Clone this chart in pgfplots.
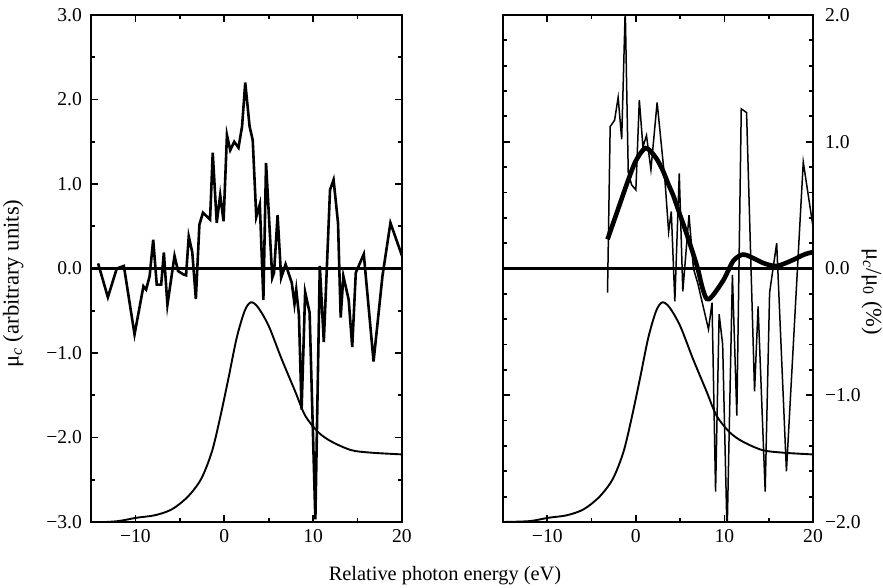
\documentclass[border=0pt]{standalone}
\usepackage{fontspec}
\setmainfont{Liberation Serif}
\usepackage{pgfplots}
\pgfplotsset{compat=1.18}

\begin{document}
\begin{tikzpicture}
\path[use as bounding box] (-45.5pt,-33pt) rectangle (396pt,261pt);
\pgfplotsset{
  panel/.style={
    scale only axis, width=155.5pt, height=253.5pt,
    xmin=-15, xmax=20,
    xtick={-10,0,10,20}, xticklabels={−10,0,10,20},
    minor xtick={-5,5,15},
    tick align=inside, tick pos=both,
    major tick length=3.5pt, minor tick length=2.2pt,
    axis line style={line width=1.1pt},
    tick style={line width=0.9pt, black},
    tick label style={font=\fontsize{9.8}{11}\selectfont},
    clip=true,
  }
}
\begin{axis}[panel,
  ymin=-3, ymax=3,
  ytick={-3,-2,-1,0,1,2,3},
  yticklabels={−3.0,−2.0,−1.0,0.0,1.0,2.0,3.0},
  minor ytick={-2.5,-1.5,-0.5,0.5,1.5,2.5},
  yticklabel style={xshift=-1pt},
  ylabel={μ\textsubscript{\itshape c} (arbitrary units)},
  ylabel style={at={(axis description cs:-0.25,0.47)}, anchor=center, font=\fontsize{11.3}{13}\selectfont},
]
\addplot[black, line width=1.1pt] coordinates {(-15,0) (20,0)};
\addplot[black, line width=1.3pt, line join=miter] coordinates {
(-14.2,0.06) (-13.1,-0.34) (-12.1,0.0) (-11.3,0.03) (-10.1,-0.78) (-9.1,-0.21)
(-8.8,-0.25) (-8.4,-0.09) (-8.0,0.34) (-7.6,-0.19) (-7.1,-0.19) (-6.8,0.19)
(-6.4,-0.43) (-5.6,0.15) (-5.2,-0.03) (-4.6,-0.07) (-4.3,-0.08) (-4.0,0.38)
(-3.6,0.19) (-3.2,-0.36) (-2.8,0.52) (-2.4,0.66) (-1.6,0.58) (-1.3,1.37)
(-0.85,0.54) (-0.46,0.87) (-0.08,0.56) (0.3,1.58) (0.67,1.40) (1.12,1.50)
(1.6,1.43) (2.0,1.68) (2.36,2.20) (2.85,1.68) (3.2,1.52) (3.6,0.61)
(4.0,0.76) (4.4,-0.37) (4.7,1.25) (5.4,-0.11) (5.6,-0.05) (6.0,0.63)
(6.4,-0.11) (6.9,0.05) (7.6,-0.17) (7.9,-0.42) (8.1,-0.25) (8.4,-0.55)
(8.7,-1.67) (9.1,-0.28) (9.6,-0.52) (10.25,-2.97) (10.75,0.03) (11.2,-0.87)
(11.9,0.93) (12.3,1.05) (12.8,0.54) (13.1,-0.58) (13.4,-0.09) (14.0,-0.37)
(14.4,-0.93) (14.8,-0.05) (15.7,0.17) (16.8,-1.10) (17.8,-0.09) (18.7,0.54)
(20.0,0.15)
};
\addplot[black, line width=0.95pt, smooth] coordinates {
(-15,-3.01) (-12,-2.99) (-9.9,-2.95) (-7.8,-2.92) (-5.9,-2.85) (-4.1,-2.70)
(-2.6,-2.49) (-1.4,-2.17) (-0.5,-1.78) (0.45,-1.31) (1.4,-0.82) (2.3,-0.50)
(3.0,-0.40) (3.8,-0.46) (5.0,-0.68) (6.45,-1.07) (8.0,-1.46) (9.1,-1.74)
(10.6,-1.94) (12.1,-2.05) (14.3,-2.15) (16.6,-2.18) (20,-2.20)
};
\end{axis}

\begin{axis}[panel, at={(206pt,0pt)}, anchor=south west, width=155pt,
  ymin=-2, ymax=2,
  ytick={-2,-1,0,1,2},
  yticklabels={−2.0,−1.0,0.0,1.0,2.0},
  minor tick num=4,
  minor xtick={-5,5,15},
  yticklabel pos=right,
  yticklabel style={xshift=2.5pt},
  ylabel={μ\textsubscript{\itshape c}/μ\textsubscript{0} (\%)},
  ylabel style={at={(axis description cs:1.19,0.454)}, anchor=center, rotate=180, font=\fontsize{11.3}{13}\selectfont},
]
\addplot[black, line width=1.1pt] coordinates {(-15,0) (20,0)};
\addplot[black, line width=0.75pt, line join=miter] coordinates {
(-3.2,-0.19) (-2.9,1.12) (-2.4,1.17) (-2.0,1.35) (-1.6,1.02) (-1.2,2.05)
(-0.86,0.76) (-0.48,0.66) (0.0,0.62) (0.39,1.33) (0.8,0.96) (1.2,1.05)
(1.7,0.78) (2.4,1.31) (3.3,0.68) (3.7,0.29) (4.0,0.45) (4.4,-0.26)
(4.9,0.75) (5.3,-0.18) (6.0,0.42) (6.5,0.0) (7.0,-0.12) (7.6,-0.30)
(8.2,-0.48) (8.6,-0.27) (9.0,-1.76) (9.4,-0.36) (9.8,-0.6) (10.3,-2.1)
(10.9,-0.05) (11.4,-1.16) (11.9,1.26) (12.5,1.23) (13.4,-0.97) (13.8,-0.30)
(14.6,-1.76) (15.1,-0.19) (15.9,0.20) (17.0,-1.60) (18.9,0.84) (20.0,0.33)
};
\addplot[black, line width=2.3pt, smooth] coordinates {
(-3.2,0.23) (-2.0,0.47) (-0.85,0.70) (0.0,0.85) (1.1,0.95) (2.2,0.88)
(3.0,0.78) (3.7,0.66) (4.2,0.58) (5.0,0.42) (5.7,0.28) (6.9,0.02)
(7.5,-0.15) (8.0,-0.24) (8.6,-0.22) (9.9,-0.09) (11.0,0.06) (12.1,0.11)
(13.3,0.08) (14.5,0.04) (15.9,0.02) (17.5,0.06) (19.0,0.11) (20.0,0.13)
};
\addplot[black, line width=0.95pt, smooth] coordinates {
(-15,-2.0) (-12,-1.993) (-9.9,-1.967) (-7.8,-1.947) (-5.9,-1.90) (-4.1,-1.80)
(-2.6,-1.66) (-1.4,-1.447) (-0.5,-1.187) (0.45,-0.873) (1.4,-0.547) (2.3,-0.333)
(3.0,-0.267) (3.8,-0.307) (5.0,-0.453) (6.45,-0.713) (8.0,-0.973) (9.1,-1.16)
(10.6,-1.293) (12.1,-1.367) (14.3,-1.433) (16.6,-1.453) (20,-1.467)
};
\end{axis}
\node[font=\fontsize{10.2}{12}\selectfont] at (177pt,-27pt) {Relative photon energy (eV)};
\end{tikzpicture}
\end{document}
